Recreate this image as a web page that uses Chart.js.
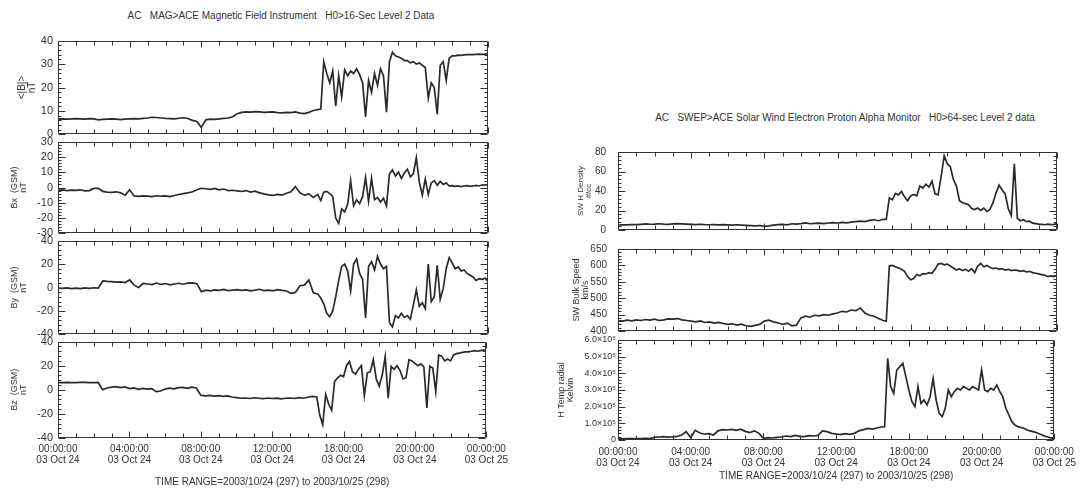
<!DOCTYPE html>
<html>
<head>
<meta charset="utf-8">
<title>ACE MAG / SWEPAM 2003-10-24</title>
<script src="https://cdn.jsdelivr.net/npm/chart.js@4.4.1/dist/chart.umd.min.js"></script>
<style>
  html, body { margin: 0; padding: 0; background: #ffffff; }
  #page { position: relative; width: 1083px; height: 492px; overflow: hidden; font-family: 'Liberation Sans', 'DejaVu Sans', sans-serif; color: #333; }
  .plot { position: absolute; }
  .heading { position: absolute; font-size: 10px; white-space: pre; transform: translateX(-50%); }
</style>
</head>
<body>
<div id="page">
  <div class="heading" style="left:281px; top:10px;">AC   MAG&gt;ACE Magnetic Field Instrument   H0&gt;16-Sec Level 2 Data</div>
  <div class="heading" style="left:845px; top:112px;">AC   SWEP&gt;ACE Solar Wind Electron Proton Alpha Monitor   H0&gt;64-sec Level 2 data</div>
</div>
<script>
// Time grid (hours of 2003/10/24): 15 min steps up to 14:30, 10 min steps after
const HOURS = [];
for (let i = 0; i <= 58; i++) HOURS.push(i / 4);
for (let k = 1; k <= 57; k++) HOURS.push(14.5 + k / 6);

// X axis ticks
const X_TICK_HOURS = [0, 4, 8, 12, 16, 20, 24];
const X_TICK_TIMES = ['00:00:00', '04:00:00', '08:00:00', '12:00:00', '18:00:00', '20:00:00', '00:00:00'];
const X_TICK_DATES = ['03 Oct 24', '03 Oct 24', '03 Oct 24', '03 Oct 24', '03 Oct 24', '03 Oct 24', '03 Oct 25'];
const TIME_RANGE = 'TIME RANGE=2003/10/24 (297) to 2003/10/25 (298)';

// Y axis ticks
const BMAG_TICKS = [0, 10, 20, 30, 40];
const BX_TICKS = [-30, -20, -10, 0, 10, 20, 30];
const BY_TICKS = [-40, -20, 0, 20, 40];
const BZ_TICKS = [-40, -20, 0, 20, 40];
const DENS_TICKS = [0, 20, 40, 60, 80];
const SPEED_TICKS = [400, 450, 500, 550, 600, 650];
const TEMP_TICKS = [0, 100000, 200000, 300000, 400000, 500000, 600000];

// <|B|> nT
const BMAG = [
  6.5, 6.6, 6.5, 6.6,  6.7, 6.6, 6.5, 6.7,  6.6, 6.2, 6.4, 6.5,  6.6, 6.5, 6.3, 6.5,
  6.6, 6.7, 6.6, 6.8,  7.0, 7.3, 7.2, 7.0,  6.8, 6.7, 6.6, 6.9,  7.1, 6.8, 6.0, 5.5,
  3.0, 6.2, 6.5, 6.4,  6.6, 6.8, 7.0, 7.5,  8.8, 9.4, 9.6, 9.5,  9.7, 9.6, 9.4, 9.5,
  9.6, 9.3, 9.2, 9.4,  9.3, 9.6, 9.1, 8.9,  9.4, 10.2, 10.6,
  10.8, 31.0,  26, 22, 27, 12, 25, 16,
  27.5, 25, 27, 26, 28, 25.5,  22, 7.5, 23, 18, 26, 21,
  28, 25, 9.5, 31, 35, 33.5,  33, 32.5, 31.5, 31.5, 30.5, 31,
  30, 30.5, 29.5, 28.5, 15.5, 22,  20, 8.5, 29.5, 31, 23, 32.5,
  33.5, 33.5, 33.8, 33.7, 33.9, 34,  34, 34, 34.1, 34.2, 34.1, 34.2,  34.2
];

// Bx (GSM) nT
const BX = [
  -1.8, -1.6, -2.0, -1.7,  -1.9, -1.5, -2.2, -2.0,  -0.6, -0.5, -2.5, -3.0,  -3.2, -2.8, -3.5, -5.0,
  -1.5, -5.5, -5.8, -5.5,  -5.6, -5.9, -5.4, -5.7,  -5.5, -6.0, -5.2, -4.6,  -4.0, -3.5, -2.8, -1.5,
  -0.5, -0.8, -1.2, -0.6,  -1.5, -1.0, -2.0, -1.8,  -2.2, -2.6, -2.0, -3.0,  -2.4, -3.5, -4.2, -4.8,
  -5.2, -4.5, -5.0, -3.8,  -2.8, 0.6, -3.5, -5.0,  -4.2, -6.5, -4.5,
  -8.5, -3.0,  -2.5, -4.0, -6.0, -20.0, -23.5, -14.0,
  -16.0, -11.0, 4.5, -12.0, -8.0, -10.5,  -6.0, 6.5, -9.0, 6.0, -8.0, -6.5,
  -9.5, -7.0, -12.0, 9.0, 11.5, 7.5,  10.0, 6.0, 9.5, 12.0, 7.0, 9.0,
  19.5, 3.5, -5.0, 5.5, -4.5, 3.0,  4.5, 1.5, 4.0, 2.0, 3.0, 1.0,
  1.2, 0.8, 1.0, 0.6, 1.0, 1.2,  0.8, 1.0, 1.4, 1.0, 1.6, 1.8,  1.5
];

// By (GSM) nT
const BY = [
  -0.5, -0.8, -0.3, -1.0,  -0.6, -1.0, -0.4, -0.8,  -0.2, -0.5, 5.6, 5.2,  5.0, 4.6, 4.8, 4.2,
  6.5, 2.0, 0.0, 3.5,  3.0, 2.5, 3.8, 2.6,  3.4, 2.2, 3.0, 3.6,  2.8, 3.8, 4.0, 3.2,
  -3.5, -2.2, -2.8, -2.0,  -2.4, -1.6, -2.6, -2.2,  -1.8, -2.5, -2.0, -2.8,  -2.2, -1.5, -2.6, -2.3,
  -2.8, -1.9, -2.4, -3.0,  -5.0, -4.2, 1.5, 2.0,  6.5, -4.5, -5.5,
  -9.0, -14.0,  -22.0, -25.0, -20.0, -8.0, 6.0, 18.0,
  20.0, 14.0, -3.0, 20.0, 24.5, 12.0,  7.0, -26.0, 18.0, 22.0, 15.0, 26.5,
  20.0, 16.0, 18.0, -30.0, -33.5, -24.0,  -26.0, -22.0, -25.5, -24.0, -27.0, -15.0,
  -2.0, -16.0, -13.0, -18.0, 20.0, -12.0,  -8.0, 19.0, -10.0, -1.0, 16.0, 25.5,
  21.0, 16.0, 17.5, 14.0, 15.0, 12.0,  10.5, 9.0, 6.0, 7.5, 7.0, 8.0,  5.5
];

// Bz (GSM) nT
const BZ = [
  6.0, 6.0, 6.1, 6.0,  6.0, 6.1, 6.2, 6.0,  6.0, 6.1, 0.0, 1.5,  2.2, 2.6, 1.8, 2.4,
  1.0, 1.6, 0.4, 1.2,  0.5, 1.0, -1.5, -1.0,  0.6, 1.4, 0.8, 1.8,  2.0, 1.2, 2.2, 1.5,
  -4.5, -5.0, -4.6, -5.2,  -4.8, -5.5, -5.0, -6.0,  -6.5, -7.0, -6.8, -7.2,  -6.6, -7.0, -7.4, -6.8,
  -7.2, -6.9, -7.5, -7.0,  -6.8, -7.2, -6.5, -7.0,  -6.2, -5.5, -6.0,
  -21.0, -29.0,  -4.0, -12.0, -17.0, 7.0, 10.0, 12.0,
  11.0, 20.0, 23.5, 15.0, 13.0, 17.0,  20.0, -5.0, 14.0, 15.0, 25.0, 9.0,
  3.0, 12.0, 27.5, -7.0, 19.5, 17.0,  20.0, 16.0, 9.0, 10.0, 25.0, 24.0,
  22.0, 20.0, 21.5, 19.0, -15.0, 19.5,  18.0, -1.5, 29.0, 28.0, 24.0, 25.5,
  24.0, 29.0, 30.0, 30.5, 31.0, 31.5,  31.5, 32.0, 32.5, 32.0, 32.5, 33.0,  32.5
];

// SW H density #/cc
const DENSITY = [
  5.0, 5.4, 5.2, 5.6,  5.5, 5.8, 6.2, 5.9,  6.0, 6.4, 6.0, 5.8,  6.2, 6.5, 6.3, 6.0,
  5.8, 5.6, 5.9, 5.5,  5.4, 5.6, 5.2, 5.5,  5.3, 5.0, 5.4, 5.1,  4.8, 4.5, 4.2, 4.6,
  3.8, 4.2, 5.0, 5.5,  5.8, 5.2, 6.4, 6.0,  6.5, 7.2, 6.4, 6.8,  7.0, 6.6, 7.2, 7.5,
  7.2, 7.8, 7.4, 8.0,  8.5, 9.0, 8.6, 9.8,  10.5, 9.5, 11.0,
  11.0, 33.0,  31.0, 37.5, 36.0, 39.5, 34.0, 30.0,
  35.0, 36.5, 35.0, 45.0, 43.0, 47.0,  44.0, 50.0, 37.0, 36.0, 55.0, 76.0,
  68.0, 65.0, 52.0, 45.0, 30.0, 28.0,  27.0, 26.0, 22.0, 21.0, 22.5, 20.0,
  22.5, 19.0, 21.0, 28.0, 38.0, 46.0,  41.0, 37.0, 22.0, 15.0, 68.0, 12.0,
  9.5, 10.5, 8.5, 9.0, 7.0, 6.5,  6.0, 5.8, 5.4, 6.0, 5.5, 5.8,  6.5
];

// SW bulk speed km/s
const SPEED = [
  432, 430, 433, 431,  434, 432, 435, 433,  436, 432, 434, 437,  436, 438, 434, 432,
  430, 428, 431, 426,  428, 424, 426, 423,  420, 422, 418, 421,  416, 414, 417, 420,
  430, 433, 428, 425,  420, 424, 416, 418,  440, 445, 442, 448,  446, 450, 448, 452,
  455, 460, 458, 464,  462, 470, 455, 448,  445, 438, 432,
  430, 598,  600, 596, 592, 588, 582, 566,
  556, 560, 572, 568, 575, 574,  578, 576, 588, 604, 606, 602,
  604, 598, 592, 586, 590, 584,  588, 582, 590, 578, 598, 606,
  596, 600, 594, 590, 592, 588,  590, 586, 588, 584, 586, 585,
  582, 584, 580, 582, 578, 576,  574, 572, 570, 566, 568, 566,  570
];

// H temp radial, Kelvin
const TEMP = [
  8000, 7000, 9000, 8000,  9000, 8000, 10000, 9000,  16000, 18000, 20000, 17000,  19000, 22000, 30000, 50000,
  15000, 58000, 42000, 36000,  38000, 30000, 55000, 62000,  60000, 64000, 58000, 65000,  52000, 45000, 55000, 40000,
  10000, 14000, 12000, 16000,  18000, 24000, 20000, 28000,  22000, 20000, 26000, 24000,  28000, 55000, 50000, 40000,
  36000, 32000, 38000, 34000,  40000, 55000, 62000, 70000,  65000, 72000, 78000,
  80000, 490000,  320000, 280000, 420000, 440000, 460000, 380000,
  300000, 230000, 200000, 320000, 220000, 240000,  210000, 260000, 370000, 240000, 160000, 140000,
  190000, 300000, 260000, 290000, 310000, 300000,  320000, 310000, 300000, 320000, 310000, 300000,
  420000, 300000, 290000, 310000, 300000, 330000,  290000, 260000, 190000, 150000, 110000, 90000,
  80000, 75000, 70000, 60000, 55000, 50000,  45000, 38000, 30000, 22000, 18000, 12000,  5000
];

Chart.defaults.font.family = "'Liberation Sans', 'DejaVu Sans', sans-serif";
Chart.defaults.color = '#333';

// IDL style box: frame plus inward ticks on all four sides
const idlFrame = {
  id: 'idlFrame',
  afterDatasetsDraw(chart) {
    const { ctx, chartArea: a, scales } = chart;
    const x = scales.x;
    const y = scales.y;
    const L = Math.round(a.left) + 0.5;
    const R = Math.round(a.right) - 0.5;
    const T = Math.round(a.top) + 0.5;
    const B = Math.round(a.bottom) - 0.5;
    ctx.save();
    ctx.strokeStyle = '#333';
    ctx.lineWidth = 1;
    ctx.beginPath();
    ctx.rect(L, T, R - L, B - T);
    for (let h = 0; h <= 24; h++) {
      const px = Math.round(x.getPixelForValue(h)) + 0.5;
      const len = X_TICK_HOURS.includes(h) ? 6 : 4;
      ctx.moveTo(px, T); ctx.lineTo(px, T + len);
      ctx.moveTo(px, B); ctx.lineTo(px, B - len);
    }
    const vals = y.ticks.map((t) => t.value);
    vals.forEach((v, i) => {
      const py = Math.round(y.getPixelForValue(v)) + 0.5;
      ctx.moveTo(L, py); ctx.lineTo(L + 7, py);
      ctx.moveTo(R, py); ctx.lineTo(R - 7, py);
      if (i < vals.length - 1) {
        const step = (vals[i + 1] - v) / 5;
        for (let m = 1; m < 5; m++) {
          const my = Math.round(y.getPixelForValue(v + m * step)) + 0.5;
          ctx.moveTo(L, my); ctx.lineTo(L + 3, my);
          ctx.moveTo(R, my); ctx.lineTo(R - 3, my);
        }
      }
    });
    ctx.stroke();
    ctx.restore();
  }
};

const fmtTemp = (v) => (v === 0 ? '0' : (v / 100000).toFixed(1) + '×10⁵');

// Panel layout (pixels of the page)
const PLOTS = [
  { data: BMAG, ticks: BMAG_TICKS, title: ['<|B|>', 'nT'], x0: 58, x1: 488, y0: 37, y1: 138, left: 17, tickSize: 11, titleSize: 10, tickPad: 5 },
  { data: BX, ticks: BX_TICKS, title: ['Bx  (GSM)', 'nT'], x0: 58, x1: 488, y0: 138, y1: 237, left: 10, tickSize: 11, titleSize: 9, tickPad: 5 },
  { data: BY, ticks: BY_TICKS, title: ['By  (GSM)', 'nT'], x0: 58, x1: 488, y0: 237, y1: 338, left: 10, tickSize: 11, titleSize: 9, tickPad: 5 },
  { data: BZ, ticks: BZ_TICKS, title: ['Bz  (GSM)', 'nT'], x0: 58, x1: 488, y0: 338, y1: 438, left: 10, tickSize: 11, titleSize: 9, tickPad: 5, axisHeight: 50, labelPad: 6 },
  { data: DENSITY, ticks: DENS_TICKS, title: ['SW H Density', '#/cc'], x0: 618, x1: 1057, y0: 142, y1: 240, left: 577, tickSize: 10, titleSize: 8, tickPad: 12 },
  { data: SPEED, ticks: SPEED_TICKS, title: ['SW Bulk Speed', 'km/s'], x0: 618, x1: 1057, y0: 240, y1: 340, left: 572, tickSize: 10, titleSize: 9, tickPad: 11 },
  { data: TEMP, ticks: TEMP_TICKS, title: ['H Temp radial', 'Kelvin'], x0: 618, x1: 1057, y0: 340, y1: 440, left: 557, tickSize: 9, titleSize: 9, tickPad: 2, fmt: fmtTemp, axisHeight: 42, labelPad: 7 }
];

const page = document.getElementById('page');
const PAD_TOP = 8;
const PAD_RIGHT = 26;

PLOTS.forEach((p) => {
  const showX = !!p.axisHeight;
  const bottom = showX ? p.axisHeight : PAD_TOP;
  const box = document.createElement('div');
  box.className = 'plot';
  box.style.left = p.left + 'px';
  box.style.top = (p.y0 - PAD_TOP) + 'px';
  box.style.width = (p.x1 + PAD_RIGHT - p.left) + 'px';
  box.style.height = (p.y1 - p.y0 + PAD_TOP + bottom) + 'px';
  const canvas = document.createElement('canvas');
  box.appendChild(canvas);
  page.appendChild(box);

  new Chart(canvas, {
    type: 'line',
    data: {
      datasets: [{
        data: p.data.map((v, i) => ({ x: HOURS[i], y: v })),
        borderColor: '#2a2a2a',
        borderWidth: 1.7,
        pointRadius: 0,
        tension: 0,
        fill: false
      }]
    },
    options: {
      responsive: true,
      maintainAspectRatio: false,
      animation: false,
      events: [],
      layout: {
        autoPadding: false,
        padding: { left: 0, right: PAD_RIGHT, top: PAD_TOP, bottom: showX ? 0 : PAD_TOP }
      },
      plugins: { legend: { display: false }, tooltip: { enabled: false } },
      scales: {
        x: {
          type: 'linear',
          min: 0,
          max: 24,
          display: showX,
          grid: { display: false, drawTicks: false },
          border: { display: false },
          afterBuildTicks: (s) => { s.ticks = X_TICK_HOURS.map((v) => ({ value: v })); },
          afterFit: (s) => { if (showX) s.height = p.axisHeight; },
          ticks: {
            autoSkip: false,
            maxRotation: 0,
            padding: p.labelPad || 6,
            font: { size: 10, lineHeight: 1.1 },
            callback: (v, i) => [X_TICK_TIMES[i], X_TICK_DATES[i]]
          },
          title: {
            display: showX,
            text: TIME_RANGE,
            font: { size: 10, lineHeight: 1.2 },
            padding: 0
          }
        },
        y: {
          min: p.ticks[0],
          max: p.ticks[p.ticks.length - 1],
          grid: { display: false, drawTicks: false },
          border: { display: false },
          afterBuildTicks: (s) => { s.ticks = p.ticks.map((v) => ({ value: v })); },
          afterFit: (s) => { s.width = p.x0 - p.left; },
          ticks: {
            autoSkip: false,
            padding: p.tickPad,
            font: { size: p.tickSize },
            callback: (v) => (p.fmt ? p.fmt(v) : String(v))
          },
          title: {
            display: true,
            text: p.title,
            font: { size: p.titleSize, lineHeight: 1.0 },
            padding: 0
          }
        }
      }
    },
    plugins: [idlFrame]
  });
});
</script>
</body>
</html>
